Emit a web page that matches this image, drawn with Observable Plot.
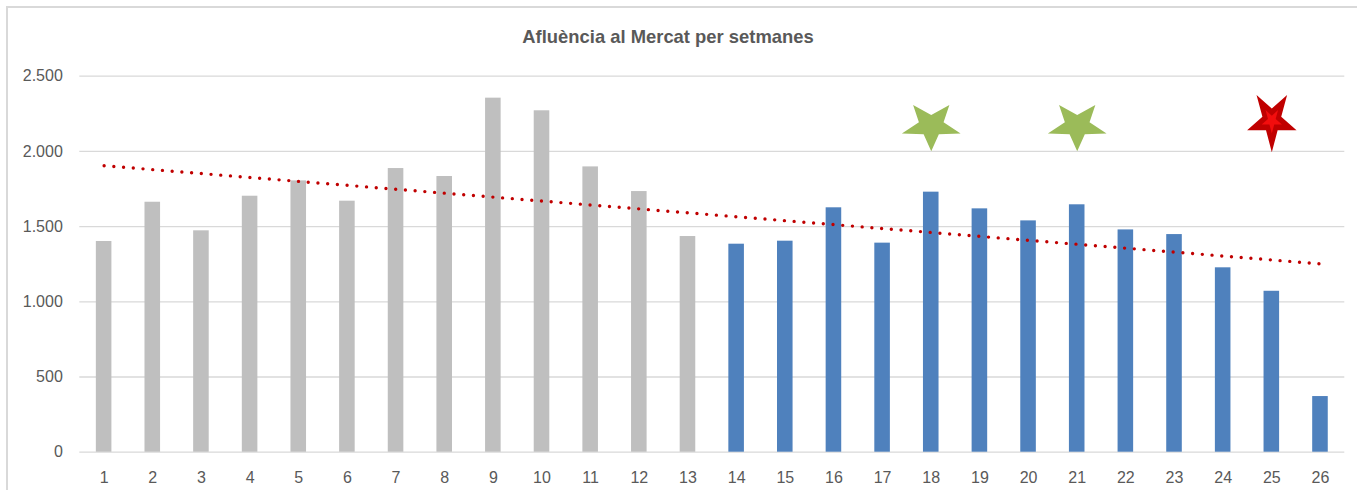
<!DOCTYPE html>
<html>
<head>
<meta charset="utf-8">
<script src="https://cdn.jsdelivr.net/npm/d3@7"></script>
<script src="https://cdn.jsdelivr.net/npm/@observablehq/plot@0.6"></script>
<style>
  html, body { margin: 0; padding: 0; background: #fff; overflow: hidden; }
  #wrap { position: relative; width: 1357px; height: 490px; overflow: hidden; }
  #frame { position: absolute; left: 6px; top: 6px; width: 1400px; height: 600px;
           border: 2px solid #d9d9d9; box-sizing: border-box; }
  #title { position: absolute; left: 0; width: 1336px; top: 26px; text-align: center;
           font: bold 18.4px "Liberation Sans", Arial, sans-serif; color: #595959;
           line-height: 22px; }
  #chart { position: absolute; left: 0; top: 0; }
</style>
</head>
<body>
<div id="wrap">
  <div id="frame"></div>
  <div id="chart"></div>
  <div id="title">Afluència al Mercat per setmanes</div>
</div>
<script>
// ---- data ----
const weeks = [1,2,3,4,5,6,7,8,9,10,11,12,13,14,15,16,17,18,19,20,21,22,23,24,25,26];
const visitors = [1401,1662,1472,1702,1804,1669,1886,1833,2354,2270,1897,1733,1434,
                  1383,1403,1625,1390,1729,1618,1538,1645,1478,1447,1226,1070,370];
const periods = ["A","A","A","A","A","A","A","A","A","A","A","A","A",
                 "B","B","B","B","B","B","B","B","B","B","B","B","B"];
const periodNames = ["A","B"];
const periodColors = ["#bfbfbf","#4f81bd"];
const yTicks = [0,500,1000,1500,2000,2500];
const yTickLabels = ["0","500","1.000","1.500","2.000","2.500"];
const starWeeks = [18,21,25];
const starLevels = [2171,2171,2205];
const starKinds = ["green","green","red"];

// ---- derived ----
const rows = weeks.map((w,i) => ({week: w, value: visitors[i], period: periods[i]}));
// linear trend (least squares), like Excel's linear trendline
const mx = d3.mean(weeks), my = d3.mean(visitors);
const sxy = d3.sum(weeks, (w,i) => (w-mx)*(visitors[i]-my));
const sxx = d3.sum(weeks, w => (w-mx)*(w-mx));
const slope = sxy/sxx, intercept = my - slope*mx;
const trend = weeks.map(w => ({week: w, value: intercept + slope*w}));
const stars = starWeeks.map((w,i) => ({week: w, value: starLevels[i], kind: starKinds[i]}));

function starSymbol(sx, inner) {
  return {
    draw(ctx, size) {
      const R = Math.sqrt(size/Math.PI);
      for (let k = 0; k < 10; k++) {
        const a = Math.PI/2 + k*Math.PI/5;
        const r = (k % 2) ? R*inner : R;
        const x = sx*r*Math.cos(a), y = r*Math.sin(a);
        if (k === 0) ctx.moveTo(x, y); else ctx.lineTo(x, y);
      }
      ctx.closePath();
    }
  };
}

const chart = Plot.plot({
  width: 1357,
  height: 490,
  marginTop: 75.7,
  marginBottom: 38.3,
  marginLeft: 79.3,
  marginRight: 12.7,
  style: {fontFamily: '"Liberation Sans", Arial, sans-serif', fontSize: "16px", color: "#595959", background: "transparent"},
  x: {type: "band", domain: weeks, paddingInner: 0.68, paddingOuter: 0.34, round: false, label: null},
  y: {domain: [0, 2500], label: null},
  color: {domain: periodNames, range: periodColors},
  marks: [
    Plot.ruleY(yTicks, {stroke: "#d9d9d9", strokeWidth: 1.3}),
    Plot.barY(rows, {x: "week", y: "value", fill: "period"}),
    Plot.line(trend, {x: "week", y: "value", stroke: "#c00000", strokeWidth: 3.4,
                      strokeDasharray: "0 9.75", strokeLinecap: "round"}),
    Plot.dot(stars.filter(d => d.kind === "green"), {x: "week", y: "value", r: 25.5,
             symbol: starSymbol(1.21, 0.42), fill: "#9bbb59", stroke: null}),
    Plot.dot(stars.filter(d => d.kind === "red"), {x: "week", y: "value", r: 31.7,
             symbol: starSymbol(0.82, 0.38), fill: "#c00000", stroke: null}),
    Plot.dot(stars.filter(d => d.kind === "red"), {x: "week", y: "value", r: 13,
             symbol: starSymbol(0.82, 0.38), fill: "#ff1010", stroke: null, opacity: 0.8}),
    Plot.axisY({ticks: yTicks, tickFormat: v => yTickLabels[yTicks.indexOf(v)],
                tickSize: 0, tickPadding: 17, fill: "#595959", label: null}),
    Plot.axisX({tickSize: 0, tickPadding: 19, fill: "#595959", label: null})
  ]
});
document.getElementById("chart").appendChild(chart);
</script>
</body>
</html>
